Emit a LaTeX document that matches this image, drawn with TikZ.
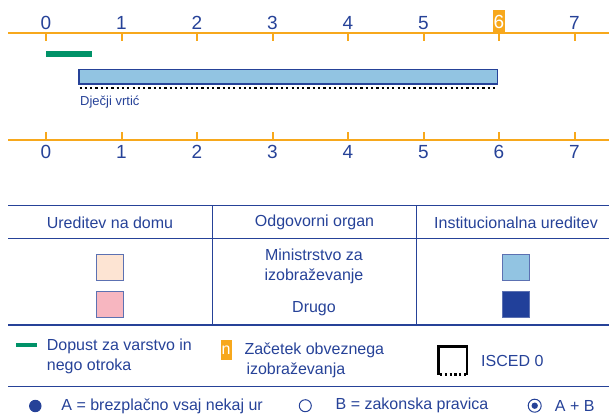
\documentclass[tikz,border=0pt]{standalone}
\usepackage{fontspec}
\setmainfont{Liberation Sans}
\usetikzlibrary{positioning, calc}

\definecolor{txtblue}{RGB}{38,66,152}
\definecolor{axisorange}{RGB}{247,168,28}
\definecolor{leavegreen}{RGB}{0,146,104}
\definecolor{lightblue}{RGB}{146,196,226}
\definecolor{darkblue}{RGB}{33,64,154}
\definecolor{peach}{RGB}{253,228,211}
\definecolor{pink}{RGB}{247,182,192}

\begin{document}
\begin{tikzpicture}[x=1pt, y=-1pt,
  font=\fontsize{16}{20}\selectfont, text=txtblue,
  axisline/.style={draw=axisorange, line width=2pt},
  num/.style={font=\fontsize{19}{20}\selectfont, inner sep=0pt},
  rule/.style={draw=txtblue, line width=1pt},
  swatch/.style={draw=txtblue!75, line width=0.9pt, minimum width=27pt,
    minimum height=26pt, inner sep=0pt},
  lbl/.style={inner sep=0pt, align=left, anchor=west},
  dotmark/.style={circle, draw=txtblue, line width=1pt, inner sep=0pt},
  dotline/.style={line width=2.2pt, dash pattern=on 2.2pt off 3.1pt}
]
\useasboundingbox (0,0) rectangle (609,418);

% upper age axis
\draw[axisline] (8,33.3) -- (609,33.3);
\foreach \k in {0,...,7}
  \draw[axisline] ({46+75.5*\k},33.3) -- ++(0,7.4);
\foreach \k in {0,...,5,7}
  \node[num] (top\k) at ({46+75.5*\k},22.7) {\k};
\node[num, fill=axisorange, text=white, minimum width=12pt,
  minimum height=23pt, anchor=south] (top6) at (499,33.3) {6};

% leave and kindergarten bars
\fill[leavegreen] (46,50.7) rectangle (92,56.7);
\filldraw[fill=lightblue, draw=txtblue, line width=1.5pt]
  (79,69.5) rectangle (497.5,83.8);
\draw[dotline] (79.5,88.3) -- (497,88.3);
\node[lbl, font=\fontsize{13}{15}\selectfont] (vrtic) at (80,101.7) {Dječji vrtić};

% lower age axis
\draw[axisline] (8,140) -- (609,140);
\foreach \k in {0,...,7} {
  \draw[axisline] ({46+75.5*\k},140) -- ++(0,-7.7);
  \node[num] (bot\k) at ({46+75.5*\k},152.3) {\k};
}

% table
\draw[rule] (8,205.7) -- (609,205.7);
\draw[rule] (8,238.5) -- (609,238.5);
\draw[rule, line width=1.6pt] (8,325) -- (609,325);
\draw[rule] (212.3,205.7) -- (212.3,325);
\draw[rule] (416.5,205.7) -- (416.5,325);

\node (home) at (110,222.5) {Ureditev na domu};
\node (organ) at (314.5,222.5) {Odgovorni organ};
\node (inst) at (516,222.5) {Institucionalna ureditev};

\node[swatch, fill=peach] (homeMin) at (110,267.2) {};
\node[swatch, fill=pink] (homeOth) at (110,304.5) {};
\node[align=center, inner sep=0pt] (ministry) at (314,266) {Ministrstvo za\\izobraževanje};
\node[inner sep=0pt] (other) at (314,308.3) {Drugo};
\node[swatch, fill=lightblue] (instMin) at (516,267.2) {};
\node[swatch, fill=darkblue] (instOth) at (516,304.5) {};

% legend
\fill[leavegreen] (16,342.5) rectangle (37.3,347);
\node[lbl] (leave) at (46.7,356.7) {Dopust za varstvo in\\nego otroka};
\node[fill=axisorange, text=white, minimum width=11pt, minimum height=20pt,
  inner sep=0pt] (nbox) at (226,350) {n};
\node[lbl] (compulsory) at (244.3,360.3) {Začetek obveznega\\\hspace{2pt}izobraževanja};
\draw[line width=2.2pt] (438.5,374.5) -- (438.5,346.5) -- (467,346.5) -- (467,374.5);
\draw[line width=2.2pt, dash pattern=on 2.2pt off 2.6pt] (440,374.5) -- (467,374.5);
\node[lbl] (isced) at (481,360.7) {ISCED 0};

\draw[rule] (8,386.7) -- (609,386.7);

\node[dotmark, fill=txtblue, minimum size=11.4pt] (dotA) at (35.3,406) {};
\node[lbl, right=19.7pt of dotA] (freeA) {A = brezplačno vsaj nekaj ur};
\node[dotmark, minimum size=12pt] (dotB) at (305.3,405.7) {};
\node[lbl, right=23.7pt of dotB] (rightB) {B = zakonska pravica};
\node[dotmark, minimum size=13pt] (dotAB) at (534.7,405.7) {};
\fill[txtblue] (dotAB.center) circle (3.2);
\node[lbl, right=13pt of dotAB] (both) {A + B};
\end{tikzpicture}
\end{document}
